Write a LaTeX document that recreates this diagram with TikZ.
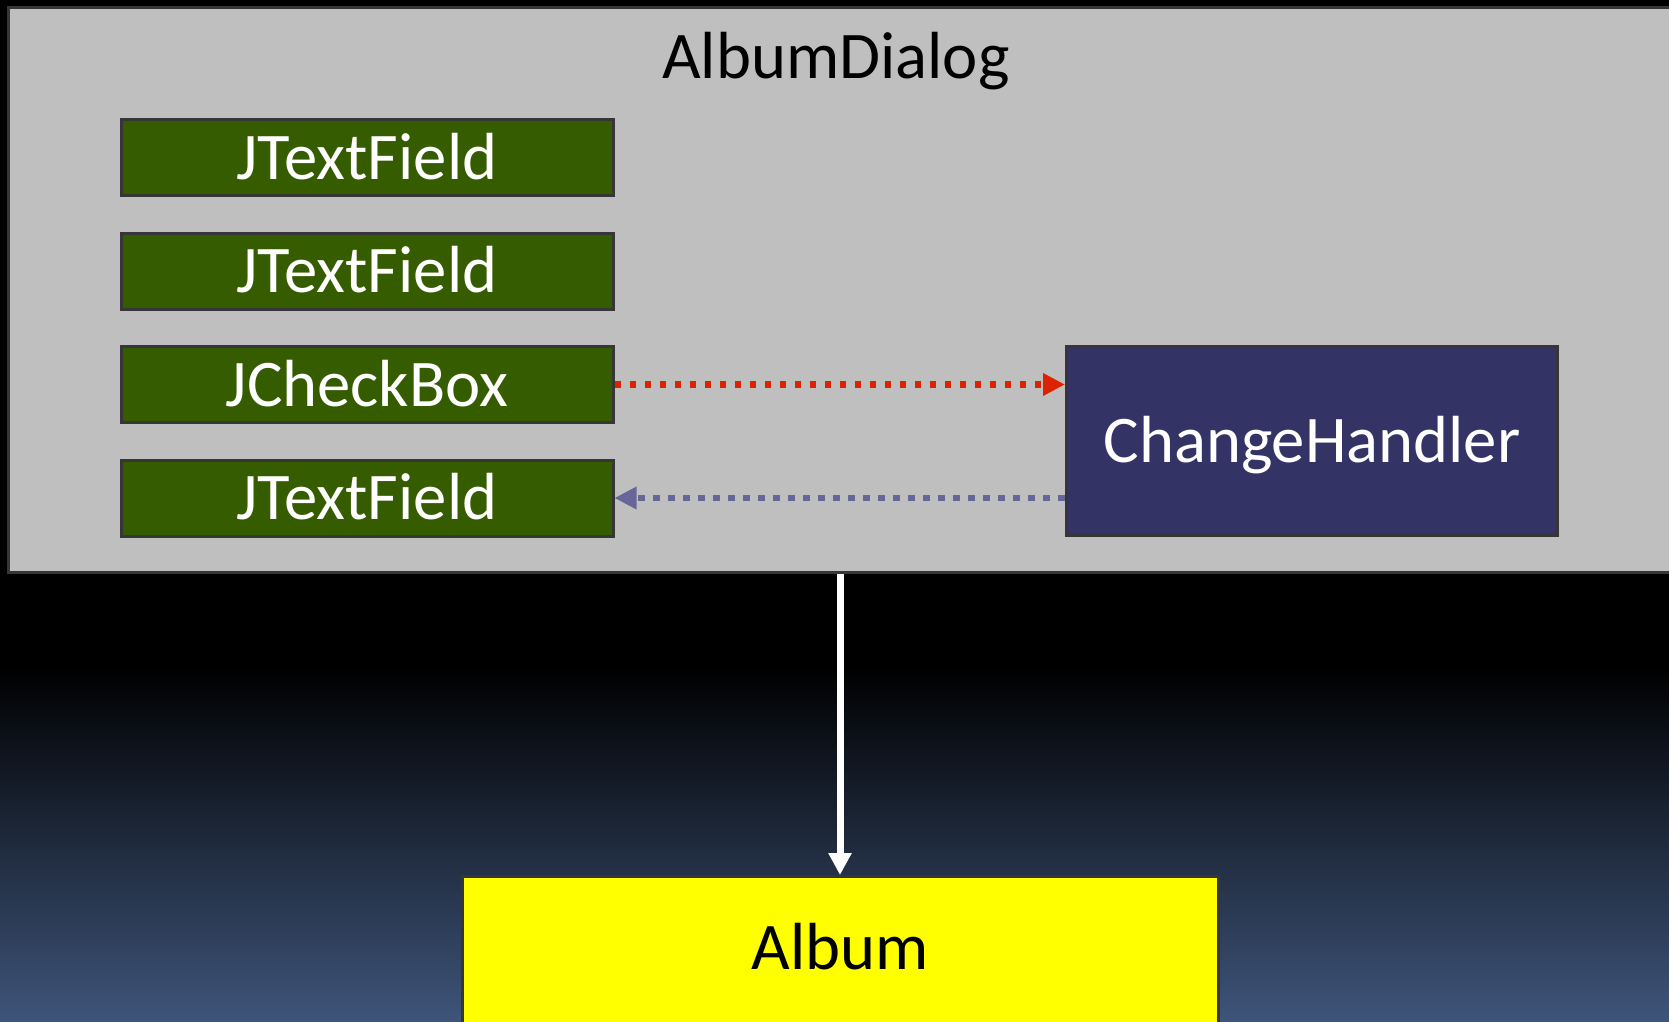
\documentclass[tikz,border=0pt]{standalone}
\usepackage{fontspec}
\setmainfont{Carlito}
\usetikzlibrary{arrows.meta}
\definecolor{dlgfill}{HTML}{BFBFBF}
\definecolor{bord}{HTML}{363636}
\definecolor{grn}{HTML}{365C00}
\definecolor{navy}{HTML}{333366}
\definecolor{redarr}{HTML}{DD2200}
\definecolor{bluearr}{HTML}{666699}
\definecolor{bgbot}{HTML}{3E5479}
\definecolor{ylw}{HTML}{FFFF00}
\begin{document}
\begin{tikzpicture}[x=0.75pt,y=-0.75pt,
  lbl/.style={font=\fontsize{50}{60}\selectfont, text height=32.5pt, text depth=0pt, inner sep=0pt},
  boxed/.style={lbl, draw=bord, line width=2.25pt},
  comp/.style={boxed, fill=grn, text=white, minimum width=369pt, minimum height=57pt},
  handler/.style={boxed, fill=navy, text=white, minimum width=368.25pt, minimum height=141.75pt},
  model/.style={boxed, fill=ylw, text=black, minimum width=567pt, minimum height=112.5pt, text depth=6pt},
  dialog/.style={draw=bord, line width=2.25pt, fill=dlgfill, inner sep=0pt, minimum width=1266pt, minimum height=423.75pt},
  dotline/.style={line width=5pt, dash pattern=on 5pt off 6.25pt, -{Triangle[length=16.5pt,width=16pt]}},
  flow/.style={line width=5.25pt, white, -{Triangle[length=16.5pt,width=16.5pt]}}
]
\clip (0,0) rectangle (1669,1021);
\fill[black] (0,0) rectangle (1669,1021);
\shade[top color=black, bottom color=bgbot] (0,667) rectangle (1669,1021);

\node[dialog] (dlg) at (852,289.5) {};
\node[lbl, text=black, anchor=base] (title) at (836,78) {AlbumDialog};

\node[comp] (tf1) at (367,157.5) {JTextField};
\node[comp] (tf2) at (367,271) {JTextField};
\node[comp] (cb)  at (367,384.5) {JCheckBox};
\node[comp] (tf3) at (367,498) {JTextField};

\node[handler] (ch) at (1312,441) {ChangeHandler};

\node[model, anchor=north] (album) at (840,875) {Album};

\draw[dotline, redarr] (cb.east) -- (cb.east -| ch.west);
\draw[dotline, bluearr] (ch.west |- tf3.east) -- (tf3.east);
\draw[flow] (dlg.south -| album.north) -- (album.north);
\end{tikzpicture}
\end{document}
